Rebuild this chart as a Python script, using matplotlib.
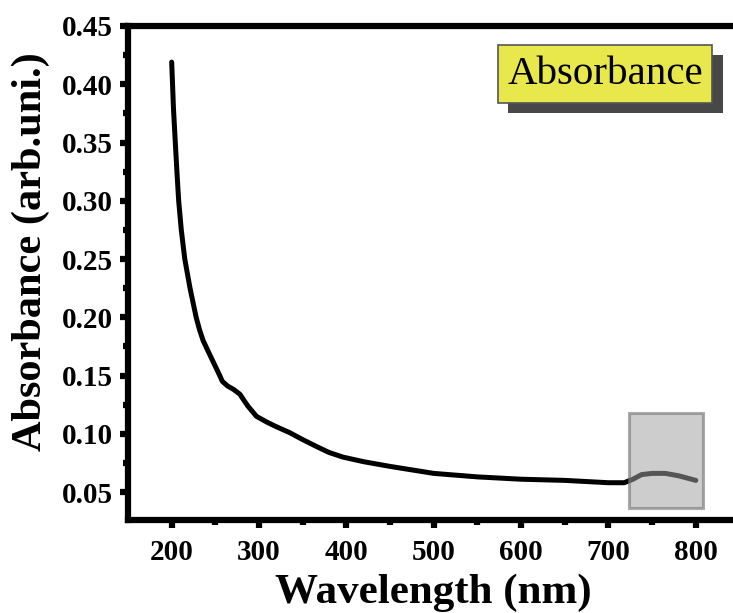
import numpy as np
import matplotlib.pyplot as plt
from matplotlib.patches import Rectangle

# values
wavelength = [200, 201, 202, 204, 206, 208, 211, 215, 221, 228, 232, 236, 241, 248,
              255, 258, 264, 271, 278, 287, 297, 309, 320, 335, 350, 366, 380, 396,
              420, 450, 475, 500, 550, 600, 650, 700, 718, 728, 738, 750, 765, 780, 800]
absorbance = [0.419, 0.400, 0.380, 0.352, 0.325, 0.300, 0.275, 0.250, 0.225, 0.200,
              0.189, 0.180, 0.172, 0.161, 0.150, 0.145, 0.141, 0.138, 0.134, 0.124,
              0.115, 0.110, 0.106, 0.101, 0.095, 0.089, 0.084, 0.080, 0.076, 0.072,
              0.069, 0.066, 0.063, 0.061, 0.060, 0.058, 0.058, 0.061, 0.065, 0.066,
              0.066, 0.064, 0.060]
x_ticks = [200, 300, 400, 500, 600, 700, 800]
y_ticks = [0.05, 0.10, 0.15, 0.20, 0.25, 0.30, 0.35, 0.40, 0.45]
highlight_x = (723, 808)
highlight_y = (0.036, 0.118)

W, H = 733, 613
fig = plt.figure(figsize=(W / 100, H / 100), dpi=100)
ax = fig.add_axes([128 / W, 93 / H, (739.5 - 128) / W, (520 - 26) / H])

ax.plot(wavelength, absorbance, color="black", lw=3.6, solid_capstyle="round", zorder=2)

ax.add_patch(Rectangle((highlight_x[0], highlight_y[0]),
                       highlight_x[1] - highlight_x[0], highlight_y[1] - highlight_y[0],
                       facecolor=(0.63, 0.63, 0.63, 0.53), edgecolor=(0.45, 0.45, 0.45, 0.6),
                       lw=2.2, zorder=3))

ax.set_xlim(150, 850)
ax.set_ylim(0.026, 0.45)
ax.set_xticks(x_ticks)
ax.set_yticks(y_ticks)
ax.set_xticks(np.arange(250, 850, 100), minor=True)
ax.set_yticks(np.arange(0.075, 0.45, 0.05), minor=True)
ax.set_xticklabels([str(v) for v in x_ticks])
ax.set_yticklabels(["%.2f" % v for v in y_ticks])

for s in ax.spines.values():
    s.set_linewidth(4.5)
ax.tick_params(which="major", direction="out", length=6, width=4.5, pad=5)
ax.tick_params(axis="x", which="major", pad=8)
ax.tick_params(which="minor", direction="out", length=3.5, width=4.5)
for lab in ax.get_xticklabels() + ax.get_yticklabels():
    lab.set_fontfamily("Liberation Serif")
    lab.set_fontweight("bold")
    lab.set_fontsize(21)

ax.set_xlabel("Wavelength (nm)", fontfamily="Liberation Serif", fontweight="bold",
              fontsize=31)
ax.xaxis.set_label_coords(0.5, -0.108)
ax.set_ylabel("Absorbance (arb.uni.)", fontfamily="Liberation Serif", fontweight="bold",
              fontsize=30.5)
ax.yaxis.set_label_coords(-0.127, 0.5425)

# legend-like label box with shadow
fig.add_artist(Rectangle((508 / W, (H - 113) / H), 215 / W, 58 / H,
                         transform=fig.transFigure, facecolor="#484848", edgecolor="none"))
fig.add_artist(Rectangle((498 / W, (H - 103) / H), 214 / W, 58 / H,
                         transform=fig.transFigure, facecolor="#e8e84c", edgecolor="#555555",
                         lw=1.2))
fig.text(605 / W, (H - 75) / H, "Absorbance", fontfamily="Liberation Serif", fontsize=29.5,
         ha="center", va="center")

fig.savefig("out.png", dpi=100)
